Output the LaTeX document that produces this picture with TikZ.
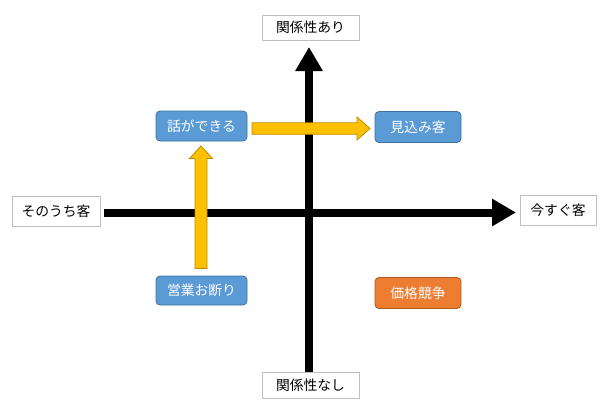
\documentclass[tikz,border=0pt]{standalone}
\usepackage{fontspec}
\setmainfont{Noto Sans CJK JP}
\usetikzlibrary{arrows.meta}
\definecolor{boxblue}{HTML}{5B9BD5}
\definecolor{boxblueb}{HTML}{41719C}
\definecolor{boxorange}{HTML}{ED7D31}
\definecolor{boxorangeb}{HTML}{AE5A21}
\definecolor{yel}{HTML}{FFC000}
\definecolor{yelb}{HTML}{BC8C00}
\definecolor{lblgray}{HTML}{BFBFBF}
\tikzset{
  lbl/.style={draw=lblgray, line width=0.8pt, fill=white, font=\fontsize{13.8}{15}\selectfont, inner sep=0pt},
  bbox/.style={draw=boxblueb, fill=boxblue, line width=0.8pt, rounded corners=4pt, text=white, font=\fontsize{13.8}{15}\selectfont, inner sep=0pt},
  obox/.style={bbox, draw=boxorangeb, fill=boxorange},
  axis/.style={line width=8pt, -{Triangle[width=26pt,length=24pt]}},
  yarrow/.style={draw=yelb, fill=yel, line width=0.8pt, line join=miter},
}
\begin{document}
\begin{tikzpicture}[x=1pt,y=-1pt]
\useasboundingbox (0,0) rectangle (611,413);
% labels
\node[lbl, minimum width=97pt, minimum height=25pt] (top) at (310.5,27.5) {関係性あり};
\node[lbl, minimum width=97pt, minimum height=26pt] (bot) at (310.5,385) {関係性なし};
\node[lbl, minimum width=88pt, minimum height=30pt] (left) at (56,211) {そのうち客};
\node[lbl, minimum width=76pt, minimum height=30pt] (right) at (558,210) {今すぐ客};
% axes
\coordinate (vb) at (309,372);
\coordinate (vt) at (309,47);
\coordinate (hl) at (104,212.5);
\coordinate (hr) at (516,212.5);
\draw[axis] (vb) -- (vt);
\draw[axis] (hl) -- (hr);
% boxes
\node[bbox, minimum width=91pt, minimum height=30pt] (talk) at (201.5,126) {話ができる};
\node[bbox, minimum width=86pt, minimum height=31pt] (mikomi) at (418,127) {見込み客};
\node[bbox, minimum width=91pt, minimum height=29pt] (eigyo) at (201.5,290.5) {営業お断り};
\node[obox, minimum width=86pt, minimum height=31pt] (kakaku) at (418,293) {価格競争};
% yellow arrows
\coordinate (us) at (201,268.5);
\coordinate (ut) at (201,146);
\draw[yarrow] (us) ++(-6,0) -- ++(0,-110) -- ++(-5.5,0) -- (ut) -- ++(11.5,12.5) -- ++(-5.5,0) -- ++(0,110) -- cycle;
\coordinate (rs) at (252,128.5);
\coordinate (rt) at (370,128.5);
\draw[yarrow] (rs) ++(0,-5.75) -- ++(105,0) -- ++(0,-5.75) -- (rt) -- ++(-13,11.5) -- ++(0,-5.75) -- ++(-105,0) -- cycle;
\end{tikzpicture}
\end{document}
